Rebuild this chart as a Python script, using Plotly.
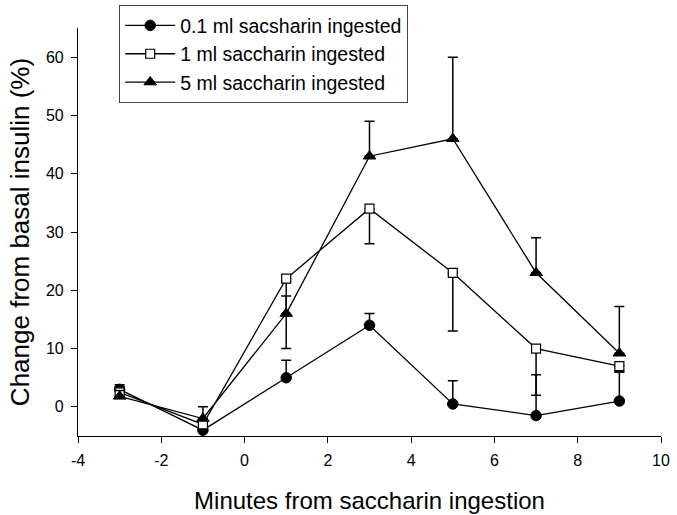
import plotly.graph_objects as go

minutes = [-3, -1, 1, 3, 5, 7, 9]
x_ticks = [-4, -2, 0, 2, 4, 6, 8, 10]
x_tick_labels = ["-4", "-2", "0", "2", "4", "6", "8", "10"]
y_ticks = [0, 10, 20, 30, 40, 50, 60]

names = ["0.1 ml sacsharin ingested", "1 ml saccharin ingested", "5 ml saccharin ingested"]

low_vals = [3, -4, 5, 14, 0.5, -1.5, 1]
low_err_up = [0.8, 0, 3, 2, 4, 7, 5]
low_err_down = [0, 0, 0, 0, 0, 0, 0]

mid_vals = [2.5, -3, 22, 34, 23, 10, 7]
mid_err_up = [1, 0, 0, 0, 0, 0, 0]
mid_err_down = [1, 0.5, 12, 6, 10, 8, 1]

high_vals = [1.8, -2, 16, 43, 46, 23, 9.2]
high_err_up = [1, 2, 3, 6, 14, 6, 8]
high_err_down = [0, 0, 0, 0, 0, 0, 0]

FONT = "Arial, Liberation Sans, sans-serif"

fig = go.Figure()

series = [
    (names[0], low_vals, low_err_up, low_err_down, dict(symbol="circle", size=10.5, color="black", line=dict(color="black", width=1))),
    (names[1], mid_vals, mid_err_up, mid_err_down, dict(symbol="square", size=9, color="white", line=dict(color="black", width=1.2))),
    (names[2], high_vals, high_err_up, high_err_down, dict(symbol="triangle-up", size=11, color="black", line=dict(color="black", width=1))),
]

for name, vals, eu, ed, mk in series:
    fig.add_trace(go.Scatter(
        x=minutes, y=vals, name=name, mode="lines+markers",
        line=dict(color="black", width=1.3),
        marker=mk,
        error_y=dict(type="data", symmetric=False, array=eu, arrayminus=ed,
                     color="black", thickness=1.5, width=5),
    ))

# plot area: x 78..661, y 28..436 ; top margin small so legend can sit above plot area
fig.update_layout(
    width=677, height=515,
    margin=dict(l=78, r=16, t=5, b=79, autoexpand=False),
    paper_bgcolor="white", plot_bgcolor="white",
    font=dict(family=FONT, color="black"),
    showlegend=True,
    legend=dict(
        x=(119 - 78) / 583, y=1.0, xanchor="left", yanchor="top",
        bordercolor="#444444", borderwidth=1.2,
        font=dict(size=19.5, family=FONT, color="black"),
        bgcolor="white", itemwidth=50, tracegroupgap=0,
    ),
    xaxis=dict(
        range=[-4, 10], tickmode="array", tickvals=x_ticks, ticktext=x_tick_labels,
        ticks="outside", ticklen=6, tickwidth=1, tickcolor="black",
        showline=True, linecolor="black", linewidth=1.2, showgrid=False, zeroline=False,
        tickfont=dict(size=16, family=FONT), automargin=False, ticklabelstandoff=4,
        title=dict(text="Minutes from saccharin ingestion", font=dict(size=24, family=FONT), standoff=23),
    ),
    yaxis=dict(
        domain=[0, 408 / 431],
        range=[-5, 65], tickmode="array", tickvals=y_ticks,
        ticks="outside", ticklen=6, tickwidth=1, tickcolor="black",
        showline=True, linecolor="black", linewidth=1.2, showgrid=False, zeroline=False,
        tickfont=dict(size=16, family=FONT), automargin=False, ticklabelstandoff=4,
        title=dict(text="Change from basal insulin (%)", font=dict(size=26, family=FONT), standoff=8),
    ),
)

fig.write_html("out.html", config={"displayModeBar": False},
               post_script="document.body.style.margin='0';")
